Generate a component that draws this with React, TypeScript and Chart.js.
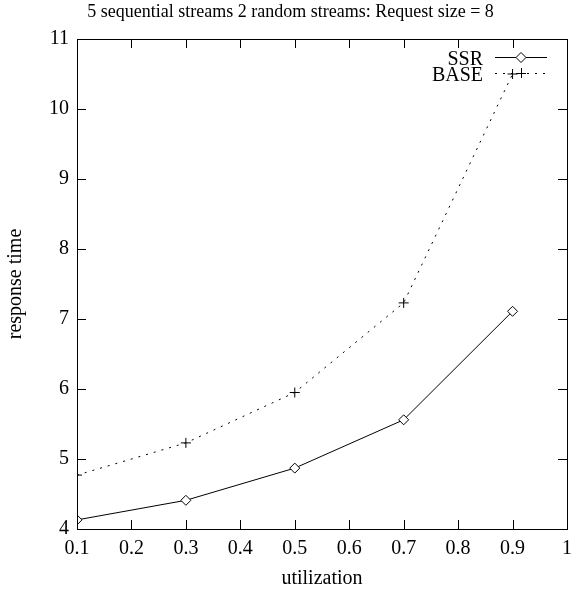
import React, { useEffect, useRef } from "react";
import { Chart, registerables } from "chart.js";

Chart.register(...registerables);

const titleText = "5 sequential streams 2 random streams: Request size = 8";
const xTitle = "utilization";
const yTitle = "response time";
const utilization = [0.1, 0.3, 0.5, 0.7, 0.9];
const ssrValues = [4.13, 4.41, 4.87, 5.56, 7.11];
const baseValues = [4.77, 5.23, 5.95, 7.23, 10.5];
const seriesNames = ["SSR", "BASE"];
const xMin = 0.1, xMax = 1, xStep = 0.1;
const yMin = 4, yMax = 11, yStep = 1;

const FONT = "'Liberation Serif', 'Times New Roman', serif";
const FS = 20;
const TITLE_FS = 18;

const gnuplotPlugin = {
  id: "gnuplotFrame",
  afterDatasetsDraw(chart: any) {
    const { ctx, chartArea } = chart;
    const { left, right, top, bottom } = chartArea;
    const xs = chart.scales.x;
    const ys = chart.scales.y;
    ctx.save();
    ctx.strokeStyle = "#000";
    ctx.lineWidth = 1;
    ctx.strokeRect(Math.round(left) + 0.5, Math.round(top) + 0.5, Math.round(right - left), Math.round(bottom - top));
    const tl = 9;
    ctx.beginPath();
    xs.ticks.forEach((t: any) => {
      const px = Math.round(xs.getPixelForValue(t.value)) + 0.5;
      ctx.moveTo(px, bottom);
      ctx.lineTo(px, bottom - tl);
      ctx.moveTo(px, top);
      ctx.lineTo(px, top + tl);
    });
    ys.ticks.forEach((t: any) => {
      const py = Math.round(ys.getPixelForValue(t.value)) + 0.5;
      ctx.moveTo(left, py);
      ctx.lineTo(left + tl, py);
      ctx.moveTo(right, py);
      ctx.lineTo(right - tl, py);
    });
    ctx.stroke();

    // title
    ctx.fillStyle = "#000";
    ctx.font = `${TITLE_FS}px ${FONT}`;
    ctx.textAlign = "center";
    ctx.textBaseline = "alphabetic";
    ctx.fillText(titleText, chart.width / 2, 16.5);

    // legend
    ctx.font = `${FS}px ${FONT}`;
    const textRight = 483;
    const lineL = 495, lineR = 547, markX = 521;
    const entries = [
      { name: seriesNames[0], ty: 60, ly: 57 },
      { name: seriesNames[1], ty: 76, ly: 73 },
    ];
    entries.forEach((e, i) => {
      ctx.textAlign = "right";
      ctx.textBaseline = "middle";
      ctx.fillStyle = "#000";
      ctx.fillText(e.name, textRight, e.ty);
      ctx.beginPath();
      ctx.setLineDash(i === 0 ? [] : [2, 6]);
      ctx.moveTo(lineL, e.ly + 0.5);
      ctx.lineTo(lineR, e.ly + 0.5);
      ctx.stroke();
      ctx.setLineDash([]);
      ctx.beginPath();
      const r = 5;
      if (i === 0) {
        ctx.moveTo(markX - r, e.ly + 0.5);
        ctx.lineTo(markX, e.ly + 0.5 - r);
        ctx.lineTo(markX + r, e.ly + 0.5);
        ctx.lineTo(markX, e.ly + 0.5 + r);
        ctx.closePath();
        ctx.fillStyle = "#fff";
        ctx.fill();
        ctx.stroke();
      } else {
        ctx.moveTo(markX - r, e.ly + 0.5);
        ctx.lineTo(markX + r, e.ly + 0.5);
        ctx.moveTo(markX + 0.5, e.ly - r);
        ctx.lineTo(markX + 0.5, e.ly + r);
        ctx.stroke();
      }
    });
    ctx.restore();
  },
};

export default function App() {
  const ref = useRef<HTMLCanvasElement>(null);
  useEffect(() => {
    if (!ref.current) return;
    Chart.defaults.font.family = FONT;
    Chart.defaults.font.size = FS;
    Chart.defaults.color = "#000";
    const chart = new Chart(ref.current, {
      type: "line",
      data: {
        datasets: [
          {
            label: seriesNames[0],
            data: utilization.map((x, i) => ({ x, y: ssrValues[i] })),
            borderColor: "#000",
            borderWidth: 1,
            backgroundColor: "#fff",
            pointStyle: "rectRot",
            pointRadius: 5,
            pointBorderWidth: 1,
            pointBorderColor: "#000",
            pointBackgroundColor: "#fff",
            tension: 0,
          },
          {
            label: seriesNames[1],
            data: utilization.map((x, i) => ({ x, y: baseValues[i] })),
            borderColor: "#000",
            borderWidth: 1,
            borderDash: [2, 6],
            pointStyle: "cross",
            pointRadius: 5,
            pointBorderWidth: 1,
            pointBorderColor: "#000",
            tension: 0,
          },
        ],
      },
      options: {
        responsive: false,
        animation: false,
        layout: { padding: { left: 0, right: 14, top: 39, bottom: 0 } },
        plugins: { legend: { display: false }, title: { display: false }, tooltip: { enabled: false } },
        scales: {
          x: {
            type: "linear",
            min: xMin,
            max: xMax,
            grid: { display: false, drawTicks: false },
            border: { display: false },
            ticks: {
              stepSize: xStep,
              padding: 8,
              maxRotation: 0,
              autoSkip: false,
              callback: (v: any) => String(Math.round(Number(v) * 10) / 10),
            },
            title: { display: true, text: xTitle, padding: { top: 0, bottom: 0 } },
            afterFit: (s: any) => { s.height = 62; },
          },
          y: {
            type: "linear",
            min: yMin,
            max: yMax,
            grid: { display: false, drawTicks: false },
            border: { display: false },
            ticks: { stepSize: yStep, padding: 8, autoSkip: false },
            title: { display: true, text: yTitle, padding: { top: 4, bottom: 0 } },
            afterFit: (s: any) => { s.width = 77; },
          },
        },
      },
      plugins: [gnuplotPlugin],
    });
    return () => chart.destroy();
  }, []);
  return (
    <div style={{ position: "absolute", left: 0, top: 0, width: 581, height: 591, background: "#fff" }}>
      <canvas ref={ref} width={581} height={591} />
    </div>
  );
}
